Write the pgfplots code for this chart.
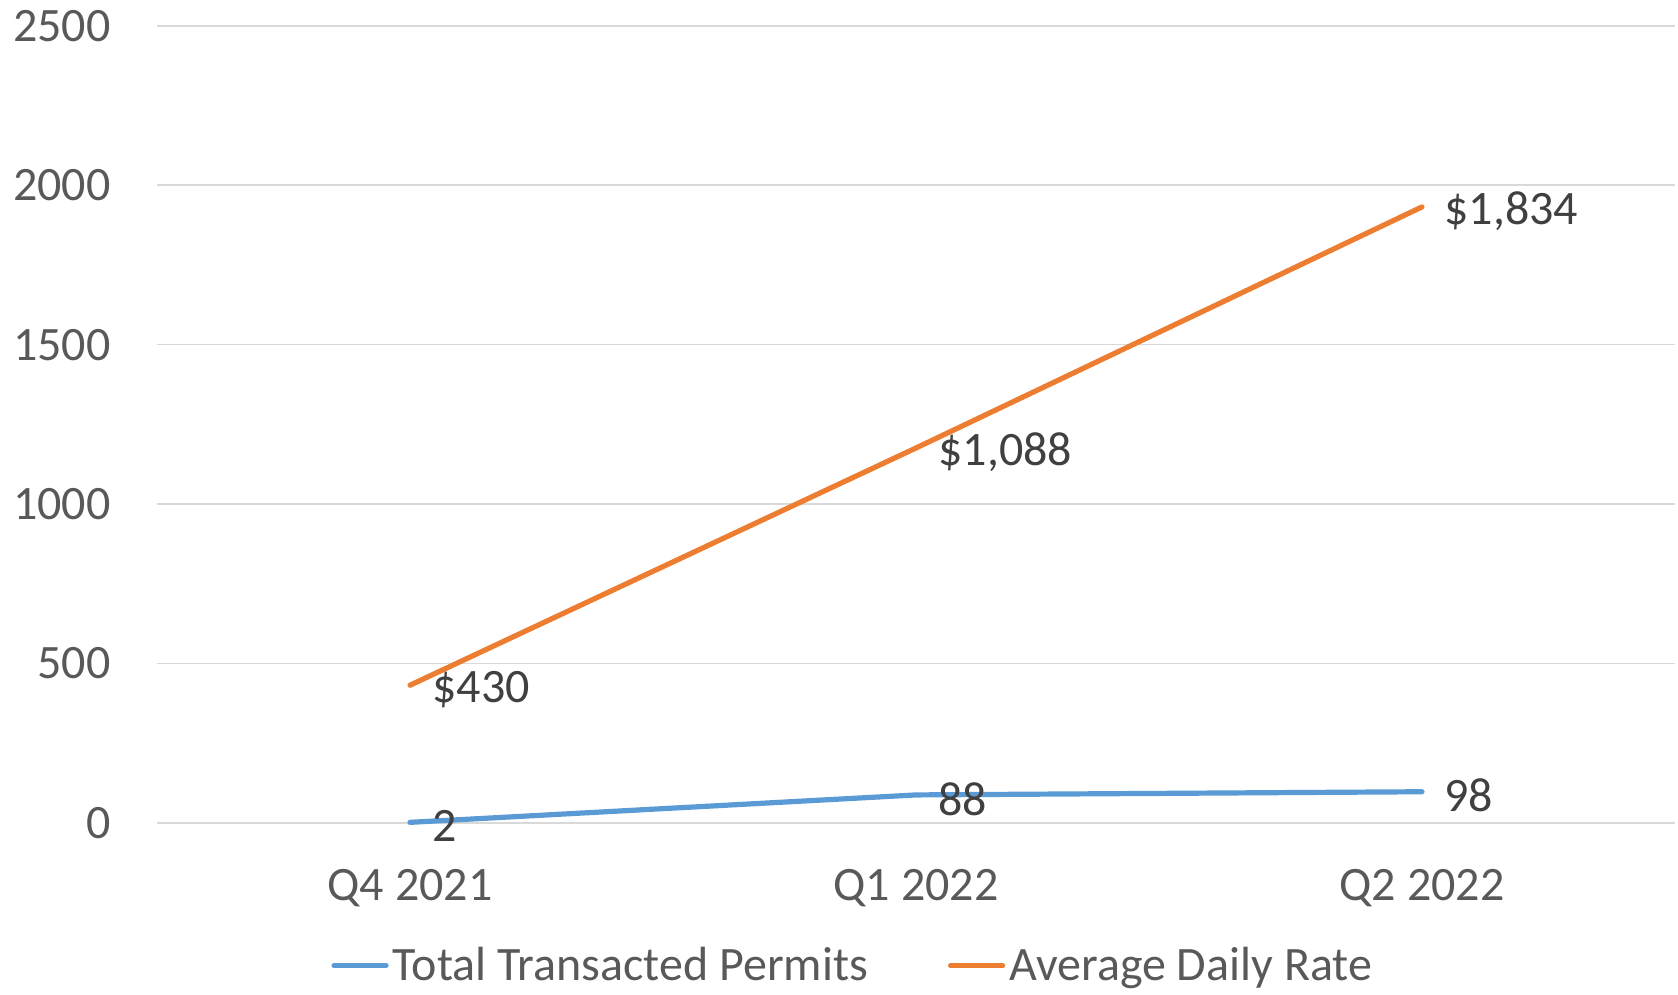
\documentclass[border=0pt]{standalone}
\usepackage{pgfplots}
\pgfplotsset{compat=1.18}
\usepackage{pgfplotstable}
\usepackage{fontspec}
\setmainfont{Carlito}
\definecolor{cblue}{HTML}{5B9BD5}
\definecolor{corange}{HTML}{ED7D31}
\definecolor{ctick}{HTML}{595959}
\definecolor{clab}{HTML}{404040}
\definecolor{cgrid}{HTML}{D9D9D9}
\pgfplotstableread{
x y
0 2
1 88
2 98
}\permits
\pgfplotstableread{
x y
0 430
1 1088
2 1834
}\rate
\begin{document}
\begin{tikzpicture}
\begin{axis}[
  scale only axis,
  width=759pt, height=398.6pt,
  xmin=-0.5, xmax=2.5,
  ymin=0, ymax=2500,
  ytick={0,500,1000,1500,2000,2500},
  xtick={0,1,2},
  xticklabels={Q4 2021, Q1 2022, Q2 2022},
  stack plots=y,
  ymajorgrids,
  grid style={color=cgrid, line width=0.75pt},
  axis line style={draw=none},
  tick style={draw=none},
  major tick length=0pt,
  /pgf/number format/assume math mode=true,
  /pgf/number format/1000 sep={},
  scaled y ticks=false,
  ticklabel style={font=\fontsize{24}{28}\selectfont, text=ctick},
  yticklabel style={anchor=east, inner sep=0pt, xshift=-23pt},
  xticklabel style={anchor=north, inner sep=0pt, yshift=-23pt},
  nodes near coords={\pgfmathprintnumber[assume math mode=true,1000 sep={,}]{\pgfplotspointmeta}},
  every node near coord/.append style={anchor=west, inner sep=0pt, xshift=10pt, yshift=-2pt, font=\fontsize{24}{28}\selectfont, text=clab},
  point meta=explicit,
  legend columns=2,
  legend style={draw=none, fill=none, at={(0.459,-0.179)}, anchor=center,
    font=\fontsize{24}{28}\selectfont, text=ctick,
    /tikz/every even column/.append style={column sep=38pt},
    inner sep=0pt},
  legend image code/.code={\draw[#1, line width=2.6pt] (0pt,0pt) -- (26pt,0pt);},
  legend cell align=left,
  clip=false,
]
\addplot[cblue, line width=2.6pt, line cap=round, line join=round, mark=none]
  table[x=x, y=y, meta=y] {\permits};
\addlegendentry{Total Transacted Permits}
\addplot[corange, line width=2.6pt, line cap=round, line join=round, mark=none,
  nodes near coords={\$\pgfmathprintnumber[assume math mode=true,1000 sep={,}]{\pgfplotspointmeta}}]
  table[x=x, y=y, meta=y] {\rate};
\addlegendentry{Average Daily Rate}
\end{axis}
\pgfresetboundingbox
\path[use as bounding box] (-78.5pt,-86pt) rectangle (760.5pt,411.5pt);
\end{tikzpicture}
\end{document}
